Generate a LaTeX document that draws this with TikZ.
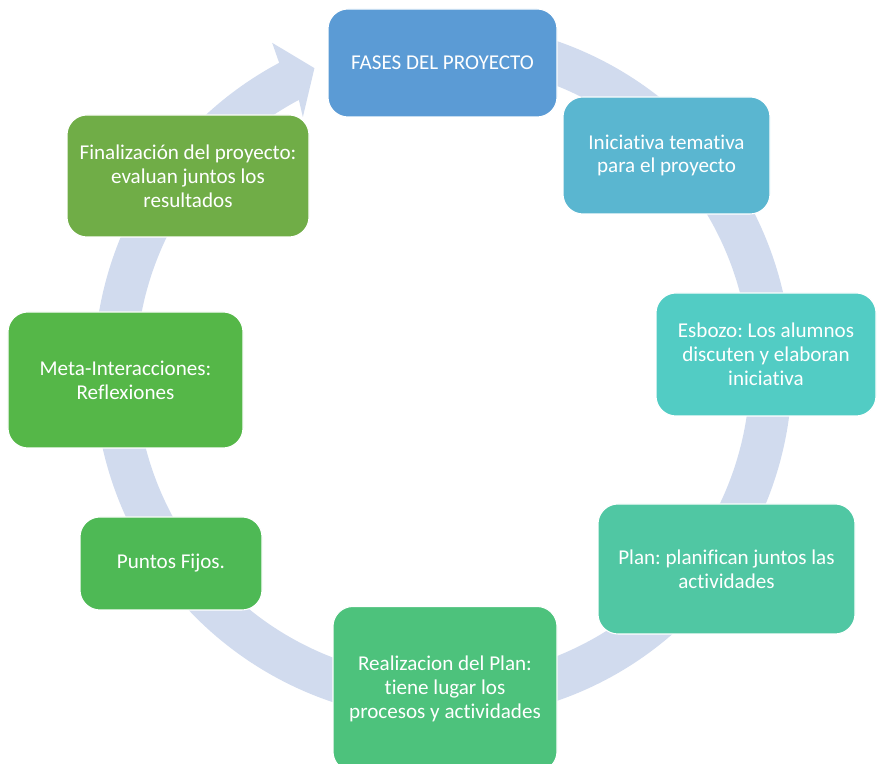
\documentclass[tikz,border=0pt]{standalone}
\usepackage{fontspec}
\setmainfont[Ligatures={NoCommon}]{Carlito}
\frenchspacing
\usepackage{tikz}
\usetikzlibrary{calc}
\definecolor{ringblue}{RGB}{209,219,238}
\definecolor{faseblue}{RGB}{91,155,213}
\definecolor{inicblue}{RGB}{90,182,208}
\definecolor{esbteal}{RGB}{82,204,196}
\definecolor{planteal}{RGB}{80,199,163}
\definecolor{realgreen}{RGB}{77,194,124}
\definecolor{puntgreen}{RGB}{78,185,85}
\definecolor{metagreen}{RGB}{85,183,72}
\definecolor{fingreen}{RGB}{112,173,71}

\begin{document}
\begin{tikzpicture}[every node/.style={rounded corners=0.4cm,draw=white,line width=0.6pt,text=white,align=center,font=\fontsize{12}{13.6}\selectfont}]
\useasboundingbox (0,0) rectangle (17.54,15.28);
% ring with arrow head
\fill[ringblue] (8.86,7.86) ++(105:6.98) arc[start angle=105,end angle=-242,radius=6.98]
  -- ($(8.86,7.86)+(-242.5:7.40)$) -- ($(8.86,7.86)+(-247:6.58)$) -- ($(8.86,7.86)+(-241.1:5.80)$)
  -- ($(8.86,7.86)+(-242:6.14)$) arc[start angle=-242,end angle=105,radius=6.14] -- cycle;
\node[fill=faseblue,minimum width=4.58cm,minimum height=2.16cm] (fases) at (8.85,14.02) {FASES DEL PROYECTO};
\node[fill=inicblue,minimum width=4.14cm,minimum height=2.34cm] (inic) at (13.33,12.17) {Iniciativa temativa\\para el proyecto};
\node[fill=esbteal,minimum width=4.40cm,minimum height=2.46cm] (esb) at (15.32,8.19) {Esbozo: Los alumnos\\discuten y elaboran\\iniciativa};
\node[fill=planteal,minimum width=5.14cm,minimum height=2.60cm] (plan) at (14.53,3.90) {Plan: planifican juntos las\\actividades};
\node[fill=realgreen,minimum width=4.48cm,minimum height=3.30cm] (real) at (8.90,1.50) {Realizacion del Plan:\\tiene lugar los\\procesos y actividades};
\node[fill=puntgreen,minimum width=3.64cm,minimum height=1.86cm] (punt) at (3.42,4.01) {Puntos Fijos.};
\node[fill=metagreen,minimum width=4.70cm,minimum height=2.72cm] (meta) at (2.51,7.68) {Meta-Interacciones:\\Reflexiones};
\node[fill=fingreen,minimum width=4.84cm,minimum height=2.44cm] (fin) at (3.76,11.76) {Finalización del proyecto:\\evaluan juntos los\\resultados};
\end{tikzpicture}
\end{document}
